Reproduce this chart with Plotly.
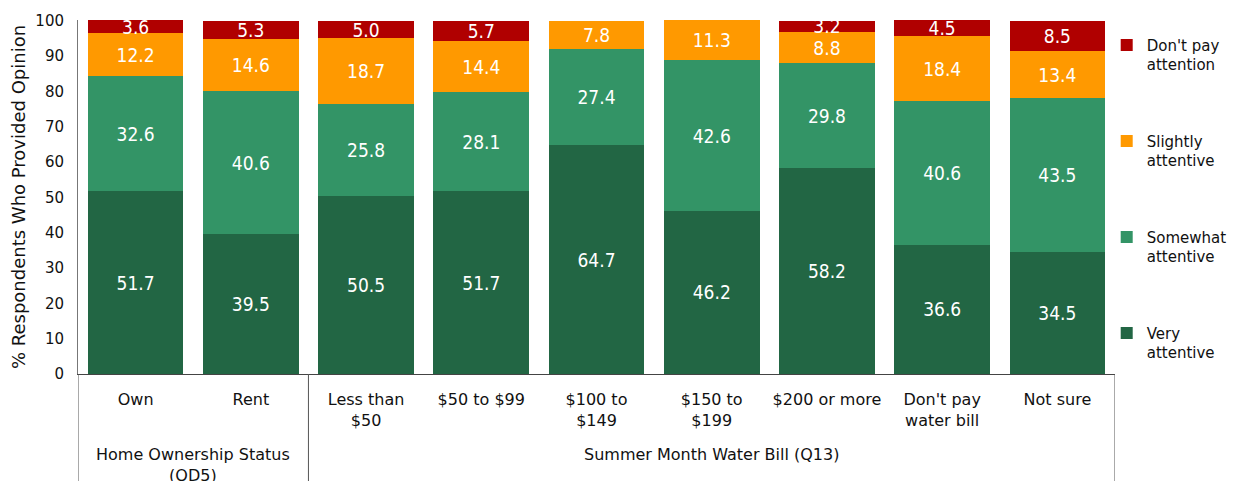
import plotly.graph_objects as go

categories = ["Own", "Rent", "Less than<br>$50", "$50 to $99", "$100 to<br>$149",
              "$150 to<br>$199", "$200 or more", "Don't pay<br>water bill", "Not sure"]
groups = ["Home Ownership Status<br>(OD5)", "Summer Month Water Bill (Q13)"]
group_sizes = [2, 7]

very = [51.7, 39.5, 50.5, 51.7, 64.7, 46.2, 58.2, 36.6, 34.5]
somewhat = [32.6, 40.6, 25.8, 28.1, 27.4, 42.6, 29.8, 40.6, 43.5]
slightly = [12.2, 14.6, 18.7, 14.4, 7.8, 11.3, 8.8, 18.4, 13.4]
dontpay = [3.6, 5.3, 5.0, 5.7, None, None, 3.2, 4.5, 8.5]

series = [
    ("Very<br>attentive", very, "#226644"),
    ("Somewhat<br>attentive", somewhat, "#339466"),
    ("Slightly<br>attentive", slightly, "#FF9900"),
    ("Don't pay<br>attention", dontpay, "#B00000"),
]

FONT = "DejaVu Sans"
LABEL_FONT = "DejaVu Sans Condensed, DejaVu Sans"
x_idx = list(range(len(categories)))

fig = go.Figure()
for i, (name, vals, color) in enumerate(series):
    fig.add_trace(go.Bar(
        x=x_idx, y=vals, name=name, marker=dict(color=color, line=dict(width=0)),
        text=[("%.1f" % v) if v is not None else "" for v in vals],
        textposition="inside", insidetextanchor="middle",
        textfont=dict(color="white", size=19, family=LABEL_FONT),
        constraintext="none", cliponaxis=False, legendgroup=str(i),
        legendrank=len(series) - i,
    ))

shapes = []
annotations = []
start = 0
bounds = [-0.5]
for g, n in zip(groups, group_sizes):
    end = start + n
    bounds.append(end - 0.5)
    annotations.append(dict(
        x=(start + end - 1) / 2, xref="x", y=-0.195, yref="paper",
        yanchor="top", xanchor="center", showarrow=False, text=g,
        font=dict(size=16, family=FONT, color="#111")))
    start = end
for b in bounds:
    shapes.append(dict(type="line", xref="x", yref="paper", x0=b, x1=b,
                       y0=0, y1=-0.32, line=dict(color="#555", width=1)))

fig.update_layout(
    width=1244, height=481,
    margin=dict(l=78, r=126, t=17, b=107),
    barmode="stack", bargap=0.17,
    plot_bgcolor="white", paper_bgcolor="white",
    font=dict(family=FONT, size=15, color="#111"),
    shapes=shapes, annotations=annotations,
    uniformtext=dict(minsize=19, mode="show"),
    legend=dict(x=0.992, xanchor="left", y=0.975, yanchor="top",
                traceorder="grouped", tracegroupgap=54,
                valign="top", font=dict(size=15, family=FONT)),
)
fig.update_xaxes(
    tickmode="array", tickvals=x_idx, ticktext=categories,
    range=[-0.5, len(categories) - 0.5],
    showline=True, linecolor="#444", linewidth=1, ticks="",
    showgrid=False, tickfont=dict(size=16, family=FONT),
    ticklabelstandoff=11,
)
fig.update_yaxes(
    range=[0, 100.2], tickvals=list(range(0, 101, 10)), showgrid=False, zeroline=False,
    showline=True, linecolor="#777", linewidth=1, ticks="",
    tickfont=dict(size=15, family=FONT),
    title=dict(text="% Respondents Who Provided Opinion", font=dict(size=18, family=FONT), standoff=5),
    ticklabelstandoff=10,
)

fig.write_html("out.html", config={"displayModeBar": False},
               post_script="document.body.style.margin='0';document.body.style.overflow='hidden';")
